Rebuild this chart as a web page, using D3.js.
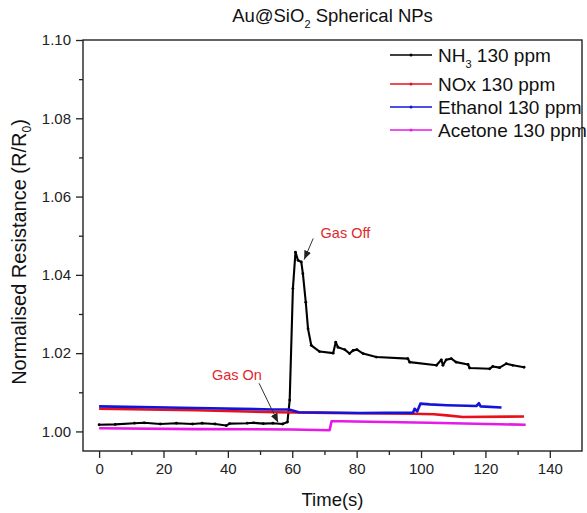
<!DOCTYPE html>
<html>
<head>
<meta charset="utf-8">
<script src="https://cdn.jsdelivr.net/npm/d3@7"></script>
<style>
  body { margin: 0; background: #fff; }
  text { font-family: "Liberation Sans", Arial, sans-serif; }
</style>
</head>
<body>
<svg id="chart" width="587" height="513"></svg>
<script>
// values
const nh3Time = [0, 5, 11, 14, 19, 24, 29, 32, 36, 39.5, 40.5, 46, 48, 51, 54, 57, 58.5, 59.2, 60.2, 61, 61.8, 62.8, 63.3, 64.2, 64.9, 65.9, 68.5, 72.7, 73.5, 74.2, 76.3, 77.8, 78.9, 80.1, 82, 86.1, 95.9, 96.5, 104.8, 106.3, 106.8, 107.8, 109.4, 110.9, 114.6, 115.1, 121.3, 122.3, 124.4, 126.5, 128.5, 132]
const nh3Value = [1.0017, 1.0018, 1.0021, 1.0022, 1.0019, 1.0021, 1.0019, 1.0021, 1.0019, 1.0015, 1.002, 1.0021, 1.0022, 1.002, 1.0021, 1.0019, 1.0024, 1.008, 1.0365, 1.0458, 1.0437, 1.0433, 1.0403, 1.033, 1.0262, 1.022, 1.0204, 1.020, 1.0228, 1.0215, 1.0209, 1.0199, 1.0207, 1.0209, 1.0199, 1.019, 1.0186, 1.0177, 1.0169, 1.0183, 1.0169, 1.0183, 1.0186, 1.0177, 1.0171, 1.0162, 1.016, 1.0166, 1.0163, 1.0173, 1.0169, 1.0164]

const noxTime = [0, 30, 55, 72, 97.5, 104, 108, 113, 132]
const noxValue = [1.0058, 1.0054, 1.0049, 1.0047, 1.0045, 1.0044, 1.0041, 1.0037, 1.0038]

const ethanolTime = [0, 30, 54, 59, 62, 81, 97.5, 98, 98.8, 99.8, 102.7, 108, 117.2, 118, 118.5, 125]
const ethanolValue = [1.0064, 1.006, 1.0056, 1.0056, 1.0049, 1.0047, 1.0048, 1.0058, 1.0051, 1.0071, 1.0069, 1.0067, 1.0065, 1.0072, 1.0064, 1.0061]

const acetoneTime = [0, 30, 60, 71.6, 72.2, 75, 102.7, 132.5]
const acetoneValue = [1.0008, 1.0006, 1.0005, 1.0003, 1.0026, 1.0026, 1.0022, 1.0017]

const seriesNames = ['NH3', 'NOx', 'Ethanol', 'Acetone']
const seriesColors = ['#000000', '#e8101a', '#1414d8', '#e619e6']

const xTicks = [0, 20, 40, 60, 80, 100, 120, 140]
const xMinor = [10, 30, 50, 70, 90, 110, 130]
const yTicks = [1.00, 1.02, 1.04, 1.06, 1.08, 1.10]
const yMinor = [1.01, 1.03, 1.05, 1.07, 1.09]

// annotations: [text x, text y, arrow start x, arrow start y, arrow tip x, arrow tip y]
const gasOn = [42.8, 1.0131, 49.7, 1.0123, 55.6, 1.0023]
const gasOff = [68.8, 1.0495, 66.5, 1.0493, 63.7, 1.0439]

const margin = {top: 40, right: 5, bottom: 62, left: 83},
    width = 587 - margin.left - margin.right,
    height = 513 - margin.top - margin.bottom

const svg = d3.select('#chart')
const g = svg.append('g').attr('transform', `translate(${margin.left},${margin.top})`)

const x = d3.scaleLinear().domain([-5, 150]).range([0, width])
const y = d3.scaleLinear().domain([0.995, 1.10]).range([height, 0])

const zip = (t, v) => t.map((d, i) => [d, v[i]])
const series = [
    zip(nh3Time, nh3Value),
    zip(noxTime, noxValue),
    zip(ethanolTime, ethanolValue),
    zip(acetoneTime, acetoneValue)
]

// axes
let xAxis = g.append('g')
    .attr('transform', `translate(0,${height})`)
    .call(d3.axisBottom(x).tickValues(xTicks).tickSize(7).tickSizeOuter(0).tickPadding(5))
let xMinorAxis = g.append('g')
    .attr('transform', `translate(0,${height})`)
    .call(d3.axisBottom(x).tickValues(xMinor).tickSize(4).tickSizeOuter(0).tickFormat(''))
let yAxis = g.append('g')
    .call(d3.axisLeft(y).tickValues(yTicks).tickSize(7).tickSizeOuter(0).tickPadding(5).tickFormat(d3.format('.2f')))
let yMinorAxis = g.append('g')
    .call(d3.axisLeft(y).tickValues(yMinor).tickSize(4).tickSizeOuter(0).tickFormat(''))

for (let a of [xAxis, xMinorAxis, yAxis, yMinorAxis]) {
    a.select('.domain').remove()
    a.selectAll('line').attr('stroke', '#222').attr('stroke-width', 1.3)
    a.selectAll('text').attr('fill', '#222').style('font-size', '15px')
        .style('font-family', '"Liberation Sans", Arial, sans-serif')
}

// frame
g.append('rect')
    .attr('width', width).attr('height', height)
    .attr('fill', 'none').attr('stroke', '#222').attr('stroke-width', 1.4)

// lines
const line = d3.line().x(d => x(d[0])).y(d => y(d[1]))
series.forEach((s, i) => {
    g.append('path')
        .datum(s)
        .attr('d', line)
        .attr('fill', 'none')
        .attr('stroke', seriesColors[i])
        .attr('stroke-width', i === 0 ? 2.1 : 2.6)
        .attr('stroke-linejoin', 'round')
})
g.selectAll('.nh3dot')
    .data(series[0])
    .enter()
    .append('circle')
    .attr('cx', d => x(d[0]))
    .attr('cy', d => y(d[1]))
    .attr('r', 1.4)
    .attr('fill', '#000')

// arrows
svg.append('defs').append('marker')
    .attr('id', 'arrow')
    .attr('viewBox', '0 0 10 10')
    .attr('refX', 10).attr('refY', 5)
    .attr('markerWidth', 9).attr('markerHeight', 9)
    .attr('markerUnits', 'userSpaceOnUse')
    .attr('orient', 'auto')
    .append('path')
    .attr('d', 'M0,1 L10,5 L0,9 Z')
    .attr('fill', '#222')

for (let [a, label, anchor] of [[gasOn, 'Gas On', 'middle'], [gasOff, 'Gas Off', 'start']]) {
    g.append('line')
        .attr('x1', x(a[2])).attr('y1', y(a[3]))
        .attr('x2', x(a[4])).attr('y2', y(a[5]))
        .attr('stroke', '#333').attr('stroke-width', 1)
        .attr('marker-end', 'url(#arrow)')
    g.append('text')
        .attr('x', x(a[0])).attr('y', y(a[1]))
        .attr('text-anchor', anchor)
        .attr('fill', '#e0282c')
        .style('font-size', '14.5px')
        .text(label)
}

// legend
const legendY = [55, 84, 107, 130]
seriesNames.forEach((name, i) => {
    svg.append('line')
        .attr('x1', 390).attr('x2', 432)
        .attr('y1', legendY[i]).attr('y2', legendY[i])
        .attr('stroke', seriesColors[i]).attr('stroke-width', 1.5)
    svg.append('circle')
        .attr('cx', 411).attr('cy', legendY[i]).attr('r', 1.5)
        .attr('fill', seriesColors[i])
    let t = svg.append('text')
        .attr('x', 438).attr('y', legendY[i] + 6.5)
        .style('font-size', '19px')
        .attr('fill', '#111')
    if (name === 'NH3') {
        t.append('tspan').text('NH')
        t.append('tspan').attr('dy', 6).style('font-size', '11px').text('3')
        t.append('tspan').attr('dy', -6).text(' 130 ppm')
    } else {
        t.text(name + ' 130 ppm')
    }
})

// title
let title = svg.append('text')
    .attr('x', margin.left + width / 2).attr('y', 22)
    .attr('text-anchor', 'middle')
    .style('font-size', '18.5px')
    .attr('fill', '#111')
title.append('tspan').text('Au@SiO')
title.append('tspan').attr('dy', 6).style('font-size', '11px').text('2')
title.append('tspan').attr('dy', -6).text(' Spherical NPs')

// axis titles
svg.append('text')
    .attr('x', margin.left + width / 2).attr('y', 506)
    .attr('text-anchor', 'middle')
    .style('font-size', '18.5px')
    .attr('fill', '#111')
    .text('Time(s)')

let yt = svg.append('text')
    .attr('transform', `translate(26,252) rotate(-90)`)
    .attr('text-anchor', 'middle')
    .style('font-size', '20px')
    .attr('fill', '#111')
yt.append('tspan').text('Normalised Resistance (R/R')
yt.append('tspan').attr('dy', 5).style('font-size', '12px').text('0')
yt.append('tspan').attr('dy', -5).text(')')
</script>
</body>
</html>
